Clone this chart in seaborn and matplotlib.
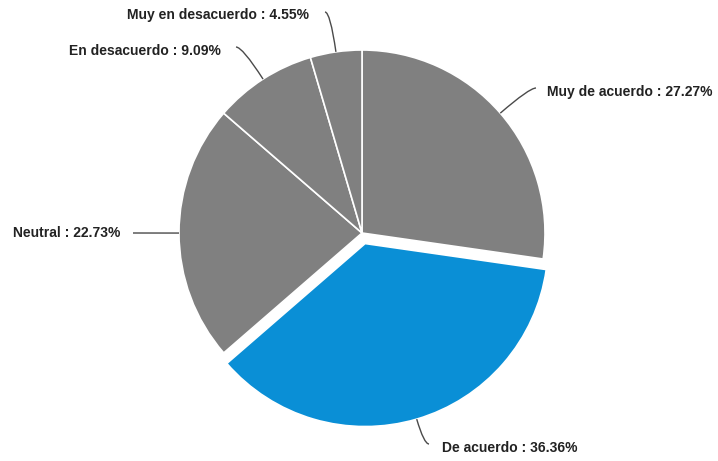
import numpy as np
import matplotlib
matplotlib.use("Agg")
import matplotlib.pyplot as plt
from matplotlib.path import Path
from matplotlib.patches import PathPatch
import seaborn as sns

# Survey responses (percent of respondents)
categories = ["Muy de acuerdo", "De acuerdo", "Neutral", "En desacuerdo", "Muy en desacuerdo"]
shares = [27.27, 36.36, 22.73, 9.09, 4.55]
highlight = "De acuerdo"

sns.set_theme(style="white")
plt.rcParams["font.family"] = ["Liberation Sans", "DejaVu Sans"]

W, H = 718, 461
fig = plt.figure(figsize=(W / 100, H / 100), dpi=100)
ax = fig.add_axes([0, 0, 1, 1])

gray = "#808080"
blue = "#0a8fd6"
colors = [blue if c == highlight else gray for c in categories]
# pie offsets are in data units (pixels here)
explode = [11 if c == highlight else 0 for c in categories]

cx, cy, R = 362, H - 233, 183
wedges, _ = ax.pie(
    shares, colors=colors, explode=explode, startangle=90, counterclock=False,
    center=(cx, cy), radius=R, frame=True,
    wedgeprops=dict(edgecolor="white", linewidth=1.2),
)
ax.set_xlim(0, W)
ax.set_ylim(0, H)
ax.set_aspect("equal")
ax.axis("off")

# label layout: (connector end in px, text anchor in px, horizontal alignment)
layout = {
    "Muy de acuerdo": ((536, 88), (547, 92), "left"),
    "De acuerdo": ((429, 444), (442, 448), "left"),
    "Neutral": ((133, 233), (120, 233), "right"),
    "En desacuerdo": ((236, 47), (221, 51), "right"),
    "Muy en desacuerdo": ((325, 12), (309, 15), "right"),
}


def connector(p0, direction, p1):
    """Quadratic curve leaving p0 along `direction`, arriving horizontally at p1."""
    dx, dy = direction
    if abs(dy) < 0.05:
        verts, codes = [p0, p1], [Path.MOVETO, Path.LINETO]
    else:
        t = (p1[1] - p0[1]) / dy
        ctrl = (p0[0] + t * dx, p1[1])
        verts = [p0, ctrl, p1]
        codes = [Path.MOVETO, Path.CURVE3, Path.CURVE3]
    ax.add_patch(PathPatch(Path(verts, codes), facecolor="none",
                           edgecolor="#4a4a4a", lw=1.0))


for w, cat, val in zip(wedges, categories, shares):
    mid = np.deg2rad((w.theta1 + w.theta2) / 2)
    ex, ey = w.center
    edge = (ex + w.r * np.cos(mid), ey + w.r * np.sin(mid))
    (px, py), (tx, ty), ha = layout[cat]
    connector(edge, (np.cos(mid), np.sin(mid)), (px, H - py))
    ax.text(tx, H - ty, f"{cat} : {val:.2f}%", ha=ha, va="center",
            fontsize=10, fontweight="bold", color="#222222")

fig.savefig("out.png", dpi=100, facecolor="white")
